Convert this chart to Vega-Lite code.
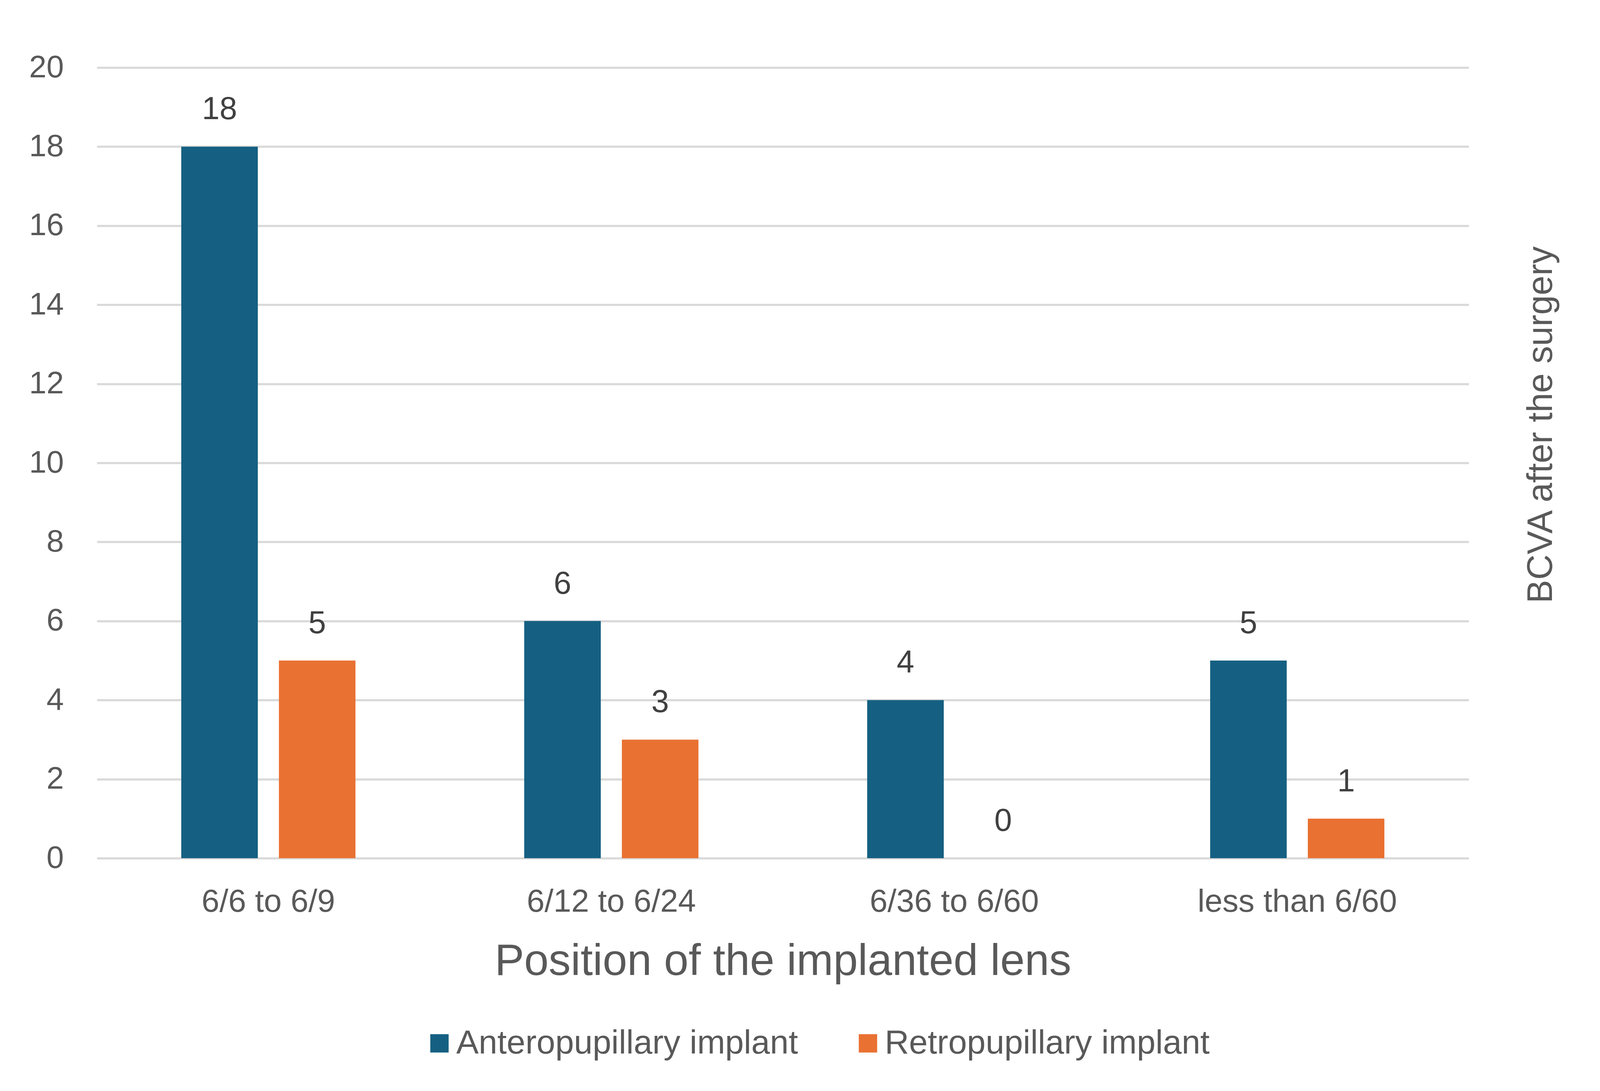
{
  "$schema": "https://vega.github.io/schema/vega-lite/v6.json",
  "width": 3512,
  "height": 2024,
  "autosize": {"type": "none"},
  "padding": {"left": 248, "top": 173, "right": 340, "bottom": 596},
  "background": "white",
  "config": {"font": "Liberation Sans", "view": {"stroke": null}},
  "data": {
    "values": [
      {"category": "6/6 to 6/9", "series": "Anteropupillary implant", "value": 18},
      {"category": "6/6 to 6/9", "series": "Retropupillary implant", "value": 5},
      {"category": "6/12 to 6/24", "series": "Anteropupillary implant", "value": 6},
      {"category": "6/12 to 6/24", "series": "Retropupillary implant", "value": 3},
      {"category": "6/36 to 6/60", "series": "Anteropupillary implant", "value": 4},
      {"category": "6/36 to 6/60", "series": "Retropupillary implant", "value": 0},
      {"category": "less than 6/60", "series": "Anteropupillary implant", "value": 5},
      {"category": "less than 6/60", "series": "Retropupillary implant", "value": 1}
    ]
  },
  "encoding": {
    "x": {
      "field": "category",
      "type": "nominal",
      "sort": ["6/6 to 6/9", "6/12 to 6/24", "6/36 to 6/60", "less than 6/60"],
      "scale": {"paddingInner": 0, "paddingOuter": 0},
      "axis": {
        "orient": "bottom",
        "labelAngle": 0,
        "labelFontSize": 82,
        "labelColor": "#595959",
        "labelBaseline": "alphabetic",
        "labelPadding": 136,
        "labelLimit": 3000,
        "ticks": false,
        "tickSize": 0,
        "domain": false,
        "grid": false,
        "title": "Position of the implanted lens",
        "titleFontSize": 113,
        "titleFontWeight": "normal",
        "titleColor": "#595959",
        "titleY": 298,
        "titleBaseline": "alphabetic",
        "titleLimit": 4000
      }
    },
    "xOffset": {
      "field": "series",
      "type": "nominal",
      "sort": ["Anteropupillary implant", "Retropupillary implant"],
      "scale": {"paddingInner": 0.216, "paddingOuter": 0.864}
    }
  },
  "layer": [
    {
      "mark": {"type": "bar"},
      "encoding": {
        "y": {
          "field": "value",
          "type": "quantitative",
          "scale": {"domain": [0, 20], "nice": false},
          "axis": {
            "orient": "left",
            "values": [0, 2, 4, 6, 8, 10, 12, 14, 16, 18, 20],
            "grid": true,
            "gridColor": "#d9d9d9",
            "gridWidth": 5.5,
            "domain": false,
            "ticks": false,
            "tickSize": 0,
            "labelPadding": 85,
            "labelFontSize": 80,
            "labelColor": "#595959",
            "title": null
          }
        },
        "color": {
          "field": "series",
          "type": "nominal",
          "scale": {
            "domain": ["Anteropupillary implant", "Retropupillary implant"],
            "range": ["#156082", "#E97132"]
          },
          "legend": {
            "orient": "none",
            "legendX": 834,
            "legendY": 2455,
            "direction": "horizontal",
            "title": null,
            "symbolType": "square",
            "symbolSize": 2209,
            "symbolStrokeWidth": 0,
            "symbolOpacity": 1,
            "labelFontSize": 86,
            "labelColor": "#595959",
            "labelOffset": 0,
            "labelLimit": 3000,
            "columnPadding": 136,
            "padding": 0
          }
        }
      }
    },
    {
      "mark": {
        "type": "text",
        "dy": -70,
        "baseline": "alphabetic",
        "align": "center",
        "fontSize": 81,
        "color": "#404040"
      },
      "encoding": {
        "y": {
          "field": "value",
          "type": "quantitative",
          "scale": {"domain": [0, 20], "nice": false},
          "axis": {
            "orient": "right",
            "labels": false,
            "ticks": false,
            "domain": false,
            "grid": false,
            "title": "BCVA after the surgery",
            "titleAngle": 270,
            "titleFontSize": 90,
            "titleFontWeight": "normal",
            "titleColor": "#595959",
            "titleX": 212,
            "titleY": 914,
            "titleAlign": "center",
            "titleBaseline": "alphabetic",
            "titleLimit": 4000
          }
        },
        "text": {"field": "value", "type": "quantitative"}
      }
    }
  ],
  "resolve": {"scale": {"y": "independent"}}
}
